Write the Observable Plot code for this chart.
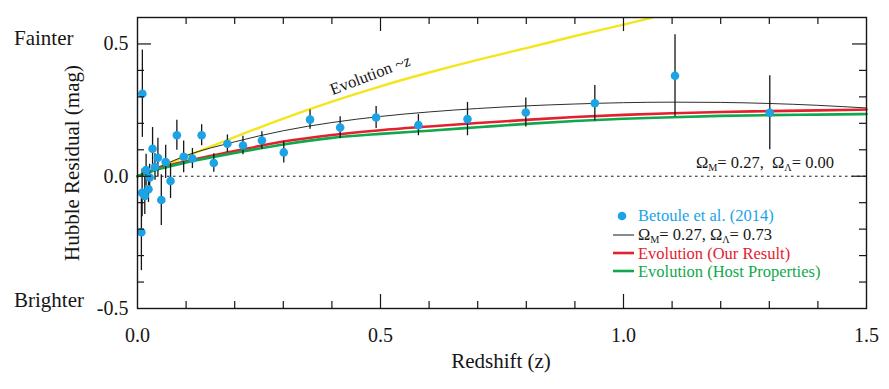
<!DOCTYPE html>
<html>
<head>
<meta charset="utf-8">
<script src="https://cdn.jsdelivr.net/npm/d3@7"></script>
<script src="https://cdn.jsdelivr.net/npm/@observablehq/plot@0.6"></script>
<style>
  html, body { margin: 0; padding: 0; background: #fff; }
  #chart { width: 889px; height: 389px; position: relative; }
  #chart svg, #chart svg text, #chart svg tspan { font-family: 'Liberation Serif', 'Times New Roman', serif !important; }
</style>
</head>
<body>
<div id="chart"></div>
<script>
// ---- Data ----
// Betoule et al. (2014) binned Hubble residuals
const pointZ   = [0.008, 0.0095, 0.010, 0.015, 0.0177, 0.0226, 0.025, 0.031, 0.036, 0.042, 0.049, 0.058, 0.068, 0.081, 0.095, 0.113, 0.132, 0.157, 0.185, 0.217, 0.256, 0.301, 0.355, 0.417, 0.491, 0.578, 0.679, 0.799, 0.941, 1.106, 1.301];
const pointRes = [-0.212, -0.063, 0.312, -0.075, 0.023, -0.049, -0.005, 0.104, 0.035, 0.070, -0.090, 0.054, -0.018, 0.155, 0.073, 0.067, 0.155, 0.050, 0.123, 0.116, 0.135, 0.090, 0.214, 0.184, 0.222, 0.193, 0.216, 0.241, 0.276, 0.380, 0.240];
const pointErr = [0.145, 0.090, 0.165, 0.070, 0.060, 0.050, 0.050, 0.080, 0.050, 0.074, 0.096, 0.063, 0.066, 0.057, 0.060, 0.038, 0.040, 0.035, 0.033, 0.035, 0.033, 0.040, 0.036, 0.041, 0.042, 0.040, 0.063, 0.055, 0.067, 0.155, 0.140];

// Model curves
const evoLinZ = [0, 0.1, 0.2, 0.3, 0.4, 0.5, 0.6, 0.7, 0.8, 0.9, 1.0, 1.06];
const evoLinV = [0, 0.075, 0.148, 0.218, 0.282, 0.340, 0.392, 0.440, 0.484, 0.530, 0.573, 0.600];

const curveZ    = [0, 0.05, 0.1, 0.2, 0.3, 0.4, 0.5, 0.6, 0.7, 0.8, 0.9, 1.0, 1.1, 1.2, 1.3, 1.4, 1.5];
const lcdmV     = [0, 0.040, 0.078, 0.130, 0.172, 0.203, 0.226, 0.243, 0.256, 0.266, 0.273, 0.278, 0.280, 0.279, 0.275, 0.268, 0.258];
const evoOurV   = [0, 0.033, 0.057, 0.095, 0.131, 0.156, 0.174, 0.188, 0.201, 0.213, 0.224, 0.232, 0.238, 0.243, 0.246, 0.249, 0.252];
const evoHostV  = [0, 0.030, 0.052, 0.088, 0.120, 0.145, 0.160, 0.172, 0.185, 0.198, 0.209, 0.217, 0.223, 0.228, 0.231, 0.233, 0.235];

// Ticks
const xMinorTicks = [0.1, 0.2, 0.3, 0.4, 0.6, 0.7, 0.8, 0.9, 1.1, 1.2, 1.3, 1.4];
const xMajorTicks = [0.5, 1.0];
const xTickLabels = [0, 0.5, 1.0, 1.5];
const yMinorTicks = [-0.4, -0.3, -0.2, -0.1, 0.1, 0.2, 0.3, 0.4];
const yMajorTicks = [0, 0.5];
const yTickLabels = [-0.5, 0, 0.5];

// ---- Build tables ----
const points = pointZ.map((z, i) => ({z, v: pointRes[i], e: pointErr[i]}));
const evoLin = evoLinZ.map((z, i) => ({z, v: evoLinV[i]}));
const lcdm = curveZ.map((z, i) => ({z, v: lcdmV[i]}));
const evoOur = curveZ.map((z, i) => ({z, v: evoOurV[i]}));
const evoHost = curveZ.map((z, i) => ({z, v: evoHostV[i]}));

const W = 889, H = 389, mt = 17, mb = 81, ml = 137, mr = 23;
const plotW = W - ml - mr, plotH = H - mt - mb;
const minorLen = 7, majorLen = 14;

const C = {blue: "#1ba3e6", red: "#e5202e", green: "#0fa84c", yellow: "#f4e51c", ink: "#161616"};
const FONT = "'Liberation Serif', 'Times New Roman', serif";

const chart = Plot.plot({
  width: W, height: H,
  marginTop: mt, marginBottom: mb, marginLeft: ml, marginRight: mr,
  style: {fontFamily: FONT, fontSize: "20px", color: C.ink, background: "#fff", overflow: "visible"},
  x: {domain: [0, 1.5], ticks: xTickLabels, tickSize: 0, tickPadding: 19, tickFormat: d => d.toFixed(1), label: null},
  y: {domain: [-0.5, 0.6], ticks: yTickLabels, tickSize: 0, tickPadding: 9, tickFormat: d => d.toFixed(1), label: null},
  marks: [
    Plot.ruleY([0], {stroke: C.ink, strokeWidth: 1, strokeDasharray: "2.5,3.5"}),
    Plot.line(evoLin, {x: "z", y: "v", stroke: C.yellow, strokeWidth: 2.4, curve: "monotone-x", clip: true}),
    Plot.line(lcdm, {x: "z", y: "v", stroke: C.ink, strokeWidth: 0.9, curve: "monotone-x"}),
    Plot.line(evoOur, {x: "z", y: "v", stroke: C.red, strokeWidth: 2.6, curve: "monotone-x"}),
    Plot.line(evoHost, {x: "z", y: "v", stroke: C.green, strokeWidth: 2.6, curve: "monotone-x"}),
    Plot.ruleX(points, {x: "z", y1: d => d.v - d.e, y2: d => d.v + d.e, stroke: C.ink, strokeWidth: 1.3}),
    Plot.dot(points, {x: "z", y: "v", r: 4.3, fill: C.blue, stroke: "none"}),
    // inward ticks
    Plot.ruleX(xMinorTicks, {x: d => d, insetTop: plotH - minorLen, stroke: C.ink, strokeWidth: 1.2}),
    Plot.ruleX(xMajorTicks, {x: d => d, insetTop: plotH - majorLen, stroke: C.ink, strokeWidth: 1.2}),
    Plot.ruleX(xMinorTicks, {x: d => d, insetBottom: plotH - minorLen, stroke: C.ink, strokeWidth: 1.2}),
    Plot.ruleX(xMajorTicks, {x: d => d, insetBottom: plotH - majorLen, stroke: C.ink, strokeWidth: 1.2}),
    Plot.ruleY(yMinorTicks, {y: d => d, insetRight: plotW - minorLen, stroke: C.ink, strokeWidth: 1.2}),
    Plot.ruleY(yMajorTicks, {y: d => d, insetRight: plotW - majorLen, stroke: C.ink, strokeWidth: 1.2}),
    Plot.ruleY(yMinorTicks, {y: d => d, insetLeft: plotW - minorLen, stroke: C.ink, strokeWidth: 1.2}),
    Plot.ruleY(yMajorTicks, {y: d => d, insetLeft: plotW - majorLen, stroke: C.ink, strokeWidth: 1.2}),
    Plot.frame({stroke: C.ink, strokeWidth: 1.4})
  ]
});

document.getElementById("chart").appendChild(chart);

// ---- Annotations, titles and legend ----
const svg = d3.select(chart);
const g = svg.append("g").style("font-family", FONT).attr("fill", C.ink);

function addText(x, y, parts, opts = {}) {
  const size = opts.size || 16.5;
  const t = g.append("text").attr("x", x).attr("y", y)
    .style("font-family", FONT)
    .attr("font-size", size)
    .attr("fill", opts.fill || C.ink)
    .attr("text-anchor", opts.anchor || "start");
  if (opts.transform) t.attr("transform", opts.transform).attr("x", 0).attr("y", 0);
  for (const p of parts) {
    if (typeof p === "string") t.append("tspan").text(p);
    else {
      const s = t.append("tspan").text(p.t);
      if (p.sub) s.attr("font-size", size * 0.62).attr("dy", 3);
      if (p.up) s.attr("dy", -3);
      if (p.italic) s.attr("font-style", "italic");
    }
  }
  return t;
}

addText(14, 45, ["Fainter"], {size: 21});
addText(14, 307, ["Brighter"], {size: 21});
addText(0, 0, ["Hubble Residual (mag)"], {size: 21, anchor: "middle", transform: "translate(79,163) rotate(-90)"});
addText(501, 368, ["Redshift (z)"], {size: 21, anchor: "middle"});

addText(0, 0, ["Evolution ~", {t: "z", italic: true}], {size: 16.5, anchor: "middle", transform: "translate(372,80) rotate(-21)"});

addText(696, 168, ["Ω", {t: "M", sub: true}, {t: "= 0.27,  Ω", up: true}, {t: "Λ", sub: true}, {t: "= 0.00", up: true}], {size: 16.5});

// legend
g.append("circle").attr("cx", 622).attr("cy", 216).attr("r", 4.3).attr("fill", C.blue);
addText(638, 221, ["Betoule et al. (2014)"], {fill: C.blue});
g.append("line").attr("x1", 613).attr("x2", 634).attr("y1", 235).attr("y2", 235).attr("stroke", C.ink).attr("stroke-width", 1);
addText(638, 240, ["Ω", {t: "M", sub: true}, {t: "= 0.27, Ω", up: true}, {t: "Λ", sub: true}, {t: "= 0.73", up: true}]);
g.append("line").attr("x1", 613).attr("x2", 634).attr("y1", 253).attr("y2", 253).attr("stroke", C.red).attr("stroke-width", 2.6);
addText(638, 259, ["Evolution (Our Result)"], {fill: C.red});
g.append("line").attr("x1", 613).attr("x2", 634).attr("y1", 271).attr("y2", 271).attr("stroke", C.green).attr("stroke-width", 2.6);
addText(638, 277, ["Evolution (Host Properties)"], {fill: C.green});
</script>
</body>
</html>
